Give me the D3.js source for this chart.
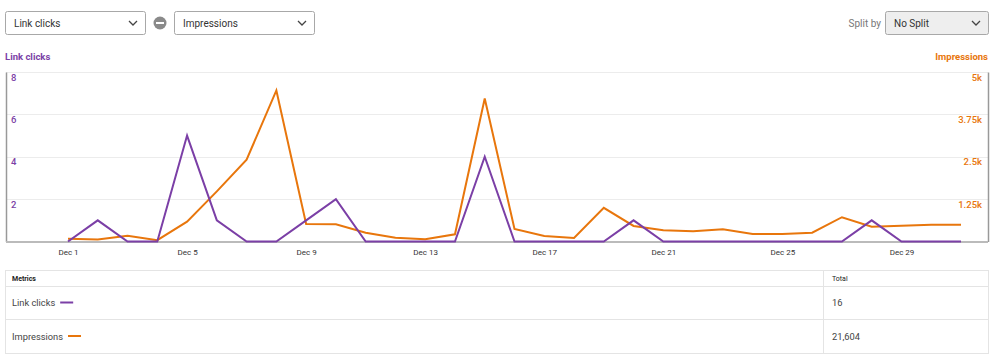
<!DOCTYPE html>
<html><head><meta charset="utf-8">
<script src="https://cdn.jsdelivr.net/npm/d3@7"></script>
<style>
html,body{margin:0;padding:0;background:#fff;}
svg{display:block;font-family:Roboto,"Noto Sans",sans-serif;}
</style></head>
<body><svg id="c" width="1000" height="358"></svg>
<script>
const days = d3.range(1, 32).map(d => new Date(2023, 11, d));
const linkClicks = [0,1,0,0,5,1,0,0,1,2,0,0,0,0,4,0,0,0,0,1,0,0,0,0,0,0,0,1,0,0,0];
const impressions = [80,60,170,40,586,1480,2412,4455,518,509,260,113,65,213,4218,370,163,104,992,459,331,302,361,222,222,260,716,438,468,497,497];
const leftTicks = [2,4,6,8];
const rightTicks = [1250,2500,3750,5000];
const rightTickLabels = ["1.25k","2.5k","3.75k","5k"];
const xTickDays = [1,5,9,13,17,21,25,29];
const metrics = ["Link clicks","Impressions"];
const totals = ["16","21,604"];

const purple = "#7b3fa6", orange = "#e8760c";
const svg = d3.select("#c");

// controls
function dropdown(x, w, label, bg) {
  const g = svg.append("g");
  g.append("rect").attr("x", x+0.5).attr("y", 11.5).attr("width", w).attr("height", 23).attr("rx", 2)
    .attr("fill", bg).attr("stroke", "#a8a8a8");
  g.append("text").attr("x", x+9).attr("y", 26.5).attr("font-size", 10).attr("fill", "#333").text(label);
  const cx = x + w - 12;
  g.append("path").attr("d", `M${cx-4},21 L${cx},25 L${cx+4},21`).attr("fill","none").attr("stroke","#444").attr("stroke-width",1.3);
}
dropdown(5, 140, "Link clicks", "#fff");
svg.append("circle").attr("cx", 160).attr("cy", 23).attr("r", 6.5).attr("fill", "#8a8a8a");
svg.append("rect").attr("x", 156).attr("y", 22).attr("width", 8).attr("height", 2).attr("fill", "#fff");
dropdown(174, 140, "Impressions", "#fff");
svg.append("text").attr("x", 881).attr("y", 26.5).attr("text-anchor","end").attr("font-size", 10).attr("fill","#777").text("Split by");
dropdown(885, 103, "No Split", "#eeeeee");

// axis titles
svg.append("text").attr("x", 5).attr("y", 60).attr("font-size", 9.5).attr("font-weight", "bold").attr("fill", purple).text("Link clicks");
svg.append("text").attr("x", 988).attr("y", 60).attr("text-anchor","end").attr("font-size", 9.5).attr("font-weight", "bold").attr("fill", orange).text("Impressions");

// scales
const x = d3.scaleTime().domain([days[0], days[30]]).range([68, 961]);
const yL = d3.scaleLinear().domain([0, 8]).range([241.5, 72]);
const yR = d3.scaleLinear().domain([0, 5000]).range([241.5, 72]);
const plotL = 6, plotR = 988;

// gridlines
svg.append("g").selectAll("line").data(leftTicks).join("line")
  .attr("x1", plotL).attr("x2", plotR).attr("y1", d => Math.round(yL(d))+0.5).attr("y2", d => Math.round(yL(d))+0.5)
  .attr("stroke", "#ececec");

// left axis
const gl = svg.append("g").attr("transform", `translate(${plotL},0)`)
  .call(d3.axisRight(yL).tickValues(leftTicks).tickSize(0).tickPadding(5).tickFormat(d3.format("d")));
gl.select(".domain").attr("stroke", "#999").attr("stroke-width", 1.5);
gl.selectAll("text").attr("fill", purple).attr("font-size", 9.5).attr("font-weight", 500).attr("font-family","Roboto, sans-serif").attr("dy", "0.85em");

// right axis
const gr = svg.append("g").attr("transform", `translate(${plotR},0)`)
  .call(d3.axisLeft(yR).tickValues(rightTicks).tickSize(0).tickPadding(6).tickFormat((d,i) => rightTickLabels[i]));
gr.select(".domain").attr("stroke", "#999").attr("stroke-width", 1.5);
gr.selectAll("text").attr("fill", orange).attr("font-size", 9.5).attr("font-weight", 500).attr("font-family","Roboto, sans-serif").attr("dy", "0.85em");

// x axis
const gx = svg.append("g").attr("transform", `translate(0,241.5)`)
  .call(d3.axisBottom(x).tickValues(xTickDays.map(d => new Date(2023, 11, d))).tickSize(0).tickPadding(8)
    .tickFormat(d3.timeFormat("Dec %-d")));
gx.select(".domain").remove();
gx.selectAll("text").attr("fill", "#333").attr("font-size", 8).attr("font-family","Roboto, sans-serif");
svg.append("line").attr("x1", plotL).attr("x2", plotR).attr("y1", 242).attr("y2", 242).attr("stroke", "#bbb").attr("stroke-width", 2);

// lines
svg.append("path").datum(impressions).attr("fill","none").attr("stroke", orange).attr("stroke-width", 2)
  .attr("stroke-linejoin","miter")
  .attr("d", d3.line().x((d,i) => x(days[i])).y(d => yR(d)));
svg.append("path").datum(linkClicks).attr("fill","none").attr("stroke", purple).attr("stroke-width", 2)
  .attr("d", d3.line().x((d,i) => x(days[i])).y(d => yL(d)));

// table
const tX = 5, tW = 983, colX = 823;
const rows = [270, 286, 319, 353];
svg.append("rect").attr("x", tX+0.5).attr("y", rows[0]+0.5).attr("width", tW).attr("height", rows[3]-rows[0]).attr("fill","none").attr("stroke","#e4e4e4");
[rows[1], rows[2]].forEach(y => svg.append("line").attr("x1", tX).attr("x2", tX+tW).attr("y1", y+0.5).attr("y2", y+0.5).attr("stroke", "#e4e4e4"));
svg.append("line").attr("x1", colX+0.5).attr("x2", colX+0.5).attr("y1", rows[0]).attr("y2", rows[3]).attr("stroke", "#e4e4e4");
svg.append("text").attr("x", 12).attr("y", 281).attr("font-size", 7).attr("font-weight","bold").attr("fill","#222").text("Metrics");
svg.append("text").attr("x", 832).attr("y", 281).attr("font-size", 7).attr("fill","#222").text("Total");
const colors = [purple, orange];
metrics.forEach((m, i) => {
  const cy = (rows[i+1] + rows[i+2]) / 2 + 3.5;
  const t = svg.append("text").attr("x", 12).attr("y", cy).attr("font-size", 9.3).attr("fill", "#444").text(m);
  const w = t.node().getComputedTextLength();
  svg.append("line").attr("x1", 12 + w + 5).attr("x2", 12 + w + 18).attr("y1", cy - 3.5).attr("y2", cy - 3.5)
    .attr("stroke", colors[i]).attr("stroke-width", 2);
  svg.append("text").attr("x", 832).attr("y", cy).attr("font-size", 9.3).attr("fill", "#444").text(totals[i]);
});
</script></body></html>
